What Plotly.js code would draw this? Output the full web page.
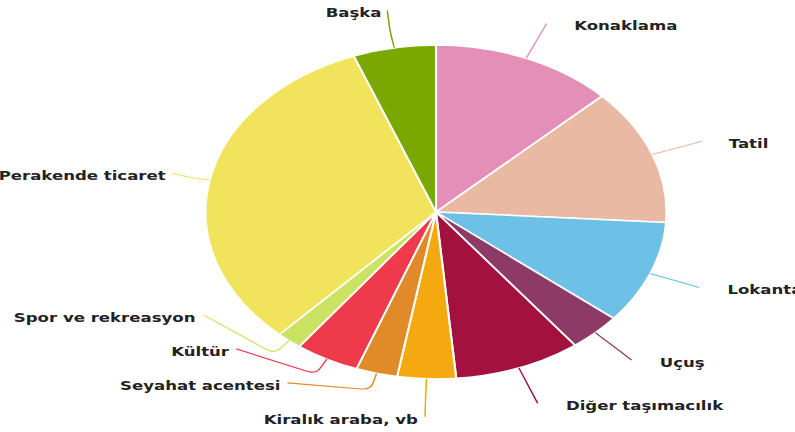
<!DOCTYPE html>
<html>
<head>
<meta charset="utf-8">
<script src="https://cdn.plot.ly/plotly-3.0.1.min.js"></script>
<style>
  html, body { margin: 0; padding: 0; background: #ffffff; overflow: hidden; }
  #wrap { width: 795px; height: 432px; overflow: hidden; }
  #chart { width: 576px; height: 432px; transform: scaleX(1.3802); transform-origin: 0 0; }
</style>
</head>
<body>
<div id="wrap"><div id="chart"></div></div>
<script>
// ---- data ----
const categories = ["Konaklama", "Tatil", "Lokanta", "Uçuş", "Diğer taşımacılık",
  "Kiralık araba, vb", "Seyahat acentesi", "Kültür", "Spor ve rekreasyon",
  "Perakende ticaret", "Başka"];
const shares = [12.8, 13.2, 10.0, 3.7, 8.9, 4.1, 2.9, 4.5, 1.8, 32.3, 5.8];
const sliceColors = ["#E48FB8", "#E9B9A4", "#6DC0E6", "#8E3A66", "#A3123E",
  "#F3A90F", "#E08A2A", "#EE3A4B", "#CCE263", "#F2E35D", "#7AA800"];

// ---- geometry (unscaled page space) ----
const W = 576, H = 432;
const cx = 315.9, cy = 212, r = 167;
const labelR = 205, minGap = 34, roundK = 7;
const leftK = 0.95, rightPad = 18, leftPad = 3, textDrop = 3;

const total = shares.reduce((a, b) => a + b, 0);
let cum = 0;
const items = shares.map((v, i) => {
  const mid = (cum + v / 2) / total * 2 * Math.PI;
  cum += v;
  return { i, mid, side: Math.sin(mid) >= 0 ? 1 : -1, y: -labelR * Math.cos(mid) };
});

// simple collision avoidance per side
const right = items.filter(d => d.side > 0).sort((a, b) => a.y - b.y);
for (let k = 1; k < right.length; k++) right[k].y = Math.max(right[k].y, right[k - 1].y + minGap);
const left = items.filter(d => d.side < 0).sort((a, b) => b.y - a.y);
for (let k = 1; k < left.length; k++) left[k].y = Math.min(left[k].y, left[k - 1].y - minGap);

const px = x => x / W, py = y => 1 - y / H;
const shapes = [], annotations = [];
items.forEach(d => {
  const ex = cx + r * Math.sin(d.mid), ey = cy - r * Math.cos(d.mid);
  const cr = r + 17;
  const kx = cx + cr * Math.sin(d.mid), ky = cy - cr * Math.cos(d.mid);
  const reach = Math.sqrt(Math.max(0, labelR * labelR - d.y * d.y));
  const ax = cx + d.side * reach * (d.side > 0 ? 1 : leftK);
  const ay = cy + d.y;
  const l1 = Math.hypot(ex - kx, ey - ky), l2 = Math.hypot(ax - kx, ay - ky) || 1;
  const p1x = kx + (ex - kx) / l1 * Math.min(roundK, l1 * 0.9), p1y = ky + (ey - ky) / l1 * Math.min(roundK, l1 * 0.9);
  const p2x = kx + (ax - kx) / l2 * Math.min(roundK, l2 * 0.5), p2y = ky + (ay - ky) / l2 * Math.min(roundK, l2 * 0.5);
  const path = `M ${px(ex)} ${py(ey)} L ${px(p1x)} ${py(p1y)} Q ${px(kx)} ${py(ky)} ${px(p2x)} ${py(p2y)} L ${px(ax)} ${py(ay)}`;
  shapes.push({ type: "path", xref: "paper", yref: "paper", path,
    line: { color: sliceColors[d.i], width: 1.1 } });
  annotations.push({
    xref: "paper", yref: "paper", showarrow: false,
    x: px(ax + (d.side > 0 ? rightPad : -leftPad)), y: py(ay + textDrop),
    xanchor: d.side > 0 ? "left" : "right", yanchor: "middle",
    text: categories[d.i],
    font: { family: "DejaVu Sans, Verdana, sans-serif", size: 12, color: "#222222", weight: "bold" }
  });
});

const trace = {
  type: "pie",
  labels: categories,
  values: shares,
  sort: false,
  direction: "clockwise",
  rotation: 0,
  textinfo: "none",
  hoverinfo: "none",
  marker: { colors: sliceColors, line: { color: "#ffffff", width: 1.5 } },
  domain: { x: [(cx - r) / W, (cx + r) / W], y: [1 - (cy + r) / H, 1 - (cy - r) / H] }
};

const layout = {
  width: W, height: H,
  margin: { l: 0, r: 0, t: 0, b: 0 },
  showlegend: false,
  paper_bgcolor: "#ffffff",
  shapes, annotations
};

Plotly.newPlot("chart", [trace], layout, { displayModeBar: false, staticPlot: true });
</script>
</body>
</html>
